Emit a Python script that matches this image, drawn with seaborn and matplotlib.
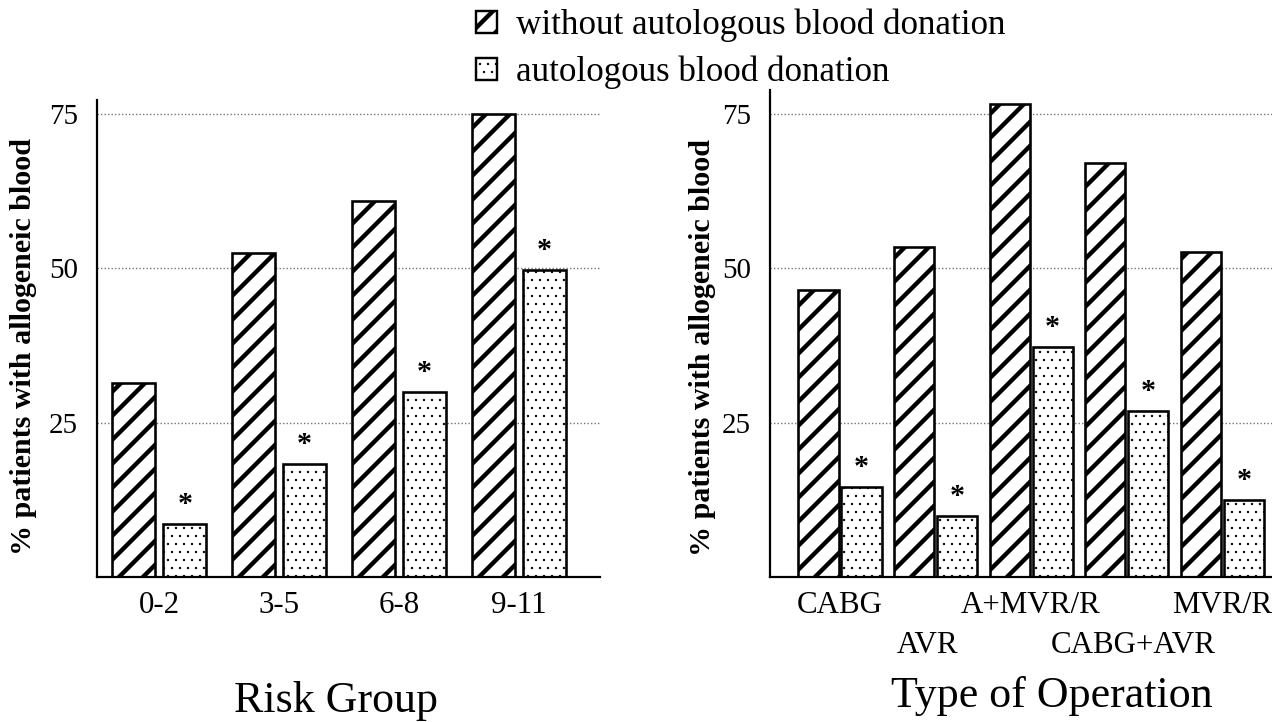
import pandas as pd
import matplotlib
matplotlib.use("Agg")
import matplotlib.pyplot as plt
from matplotlib.patches import Patch
from matplotlib.transforms import ScaledTranslation
import seaborn as sns

# data
risk_groups = ["0-2", "3-5", "6-8", "9-11"]
risk_without = [31.5, 52.5, 61.0, 75.0]
risk_with = [8.6, 18.3, 30.0, 49.8]

operations = ["CABG", "AVR", "A+MVR/R", "CABG+AVR", "MVR/R"]
op_without = [46.5, 53.5, 76.7, 67.0, 52.7]
op_with = [14.6, 9.9, 37.3, 26.9, 12.5]

series = ["without autologous blood donation", "autologous blood donation"]
hatches = ["//", "..."]
hatch_lw = [2.2, 0.4]

# staggered operation labels: (dx, dy) shift in pixels
op_label_shift = [(0, 0), (-8, -40), (0, 0), (7, -40), (0, 0)]


def long_frame(cats, without, with_):
    return pd.DataFrame({
        "cat": cats + cats,
        "value": without + with_,
        "series": [series[0]] * len(cats) + [series[1]] * len(cats),
    })


sns.set_style("white")
plt.rcParams["font.family"] = ["Liberation Serif", "DejaVu Serif"]
plt.rcParams["hatch.linewidth"] = 2.2
for key in ["text.color", "axes.labelcolor", "xtick.color", "ytick.color"]:
    plt.rcParams[key] = "black"

DPI = 144
fig = plt.figure(figsize=(1272 / DPI, 722 / DPI), dpi=DPI)
ax1 = fig.add_axes([97 / 1272, 1 - 577 / 722, 503 / 1272, 477 / 722])
ax2 = fig.add_axes([770 / 1272, 1 - 577 / 722, 502 / 1272, 487 / 722])

panels = [
    (ax1, long_frame(risk_groups, risk_without, risk_with), risk_groups,
     0.85, 0.16, (-0.52, 3.675), 77.3, "Risk Group", (0.475, -0.283),
     (-0.147, 0.483)),
    (ax2, long_frame(operations, op_without, op_with), operations,
     0.9, 0.067, (-0.733, 4.52), 78.9, "Type of Operation", (0.562, -0.267),
     (-0.135, 0.472)),
]

for ax, df, ticklabels, width, gap, xlim, ytop, xlabel, xlab_pos, ylab_pos in panels:
    sns.barplot(data=df, x="cat", y="value", hue="series", hue_order=series,
                palette=["white", "white"], saturation=1, edgecolor="black",
                linewidth=1.3, width=width, gap=gap, legend=False, ax=ax)
    for cont, h, hlw in zip(ax.containers, hatches, hatch_lw):
        for bar in cont:
            bar.set_hatch(h)
            if hasattr(bar, "set_hatch_linewidth"):
                bar.set_hatch_linewidth(hlw)
    # significance stars over the donation bars
    for bar in ax.containers[1]:
        ax.annotate("*", (bar.get_x() + bar.get_width() / 2, bar.get_height()),
                    xytext=(0, 3), textcoords="offset points", ha="center",
                    va="bottom", fontsize=15, fontweight="bold")

    ax.set_xlim(*xlim)
    ax.set_ylim(0, ytop)
    ax.set_yticks([0, 25, 50, 75])
    ax.set_yticklabels(["", "25", "50", "75"])
    ax.set_xticks(range(len(ticklabels)))
    ax.set_xticklabels(ticklabels)
    ax.tick_params(axis="x", length=0, pad=7, labelsize=15.5)
    ax.tick_params(axis="y", direction="out", length=4.5, width=1.5,
                   pad=5, labelsize=14.5)
    ax.yaxis.grid(True, linestyle=(0, (1, 1.5)), color="#777777", linewidth=0.7)
    ax.set_axisbelow(True)
    sns.despine(ax=ax)
    for s in ["left", "bottom"]:
        ax.spines[s].set_linewidth(1.1)
        ax.spines[s].set_color("black")

    ax.set_xlabel(xlabel, fontsize=22)
    ax.xaxis.set_label_coords(*xlab_pos)
    ax.xaxis.label.set_va("baseline")
    ax.set_ylabel("% patients with allogeneic blood", fontsize=15,
                  fontweight="bold")
    ax.yaxis.set_label_coords(*ylab_pos)
    ax.yaxis.label.set_va("center")

# push alternate operation labels onto a second row
for tick, (dx, dy) in zip(ax2.xaxis.get_major_ticks(), op_label_shift):
    lbl = tick.label1
    lbl.set_transform(lbl.get_transform()
                      + ScaledTranslation(dx / DPI, dy / DPI, fig.dpi_scale_trans))

handles = []
for h, hlw in zip(hatches, hatch_lw):
    p = Patch(facecolor="white", edgecolor="black", hatch=h, linewidth=1.2)
    if hasattr(p, "set_hatch_linewidth"):
        p.set_hatch_linewidth(hlw)
    handles.append(p)
leg = fig.legend(handles, series, loc="upper left",
                 bbox_to_anchor=(476 / 1272, 0.988), frameon=False,
                 fontsize=17.5, borderpad=0, borderaxespad=0,
                 handlelength=0.6, handleheight=0.6, handletextpad=0.55,
                 labelspacing=0.38)
for p, hlw in zip(leg.get_patches(), hatch_lw):
    if hasattr(p, "set_hatch_linewidth"):
        p.set_hatch_linewidth(hlw)

fig.savefig("out.png", dpi=DPI)
